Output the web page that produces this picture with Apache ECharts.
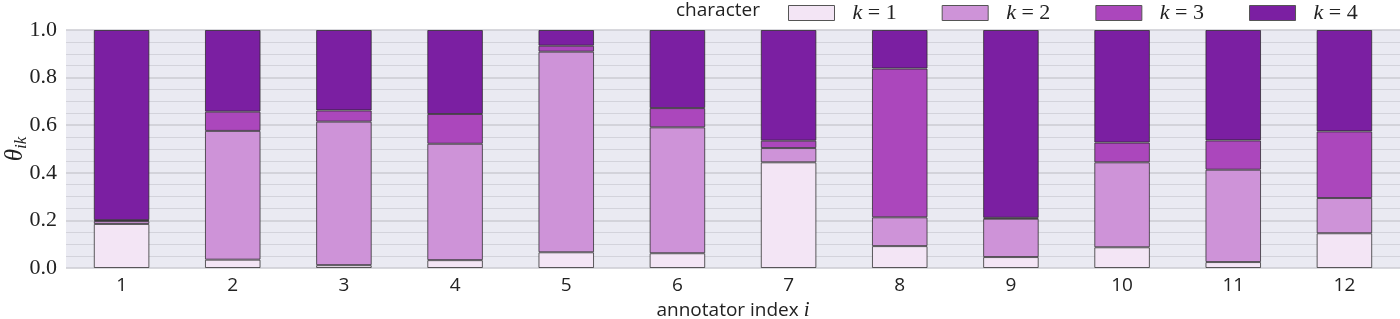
<!DOCTYPE html>
<html>
<head>
<meta charset="utf-8">
<script src="https://cdn.jsdelivr.net/npm/echarts@6/dist/echarts.min.js"></script>
<style>
  html, body { margin: 0; padding: 0; background: #fff; }
  #chart { width: 1400px; height: 319px; }
</style>
</head>
<body>
<div id="chart"></div>
<script>
// annotator index i
const annotators = ['1', '2', '3', '4', '5', '6', '7', '8', '9', '10', '11', '12']
const seriesNames = ['k = 1', 'k = 2', 'k = 3', 'k = 4']

// theta_ik, one array per character k
const k1 = [0.185, 0.035, 0.012, 0.033, 0.066, 0.062, 0.444, 0.092, 0.046, 0.087, 0.025, 0.146]
const k2 = [0.012, 0.541, 0.603, 0.489, 0.843, 0.529, 0.060, 0.121, 0.161, 0.357, 0.388, 0.148]
const k3 = [0.004, 0.081, 0.047, 0.125, 0.025, 0.081, 0.031, 0.625, 0.004, 0.083, 0.123, 0.280]
const k4 = [0.799, 0.343, 0.338, 0.353, 0.066, 0.328, 0.465, 0.162, 0.789, 0.473, 0.464, 0.426]

const colors = ['#F3E5F5', '#CE93D8', '#AB47BC', '#7B1FA2']

const chart = echarts.init(document.getElementById('chart'))

const sans = '"Open Sans", "DejaVu Sans", sans-serif'
const serif = '"Liberation Serif", "DejaVu Serif", serif'

const option = {
  animation: false,
  title: {
    text: 'character',
    left: 676,
    top: 1,
    padding: 0,
    textStyle: { fontFamily: sans, fontSize: 19, fontWeight: 'normal', color: '#222' }
  },
  legend: {
    left: 788,
    top: 2,
    padding: 0,
    itemWidth: 46,
    itemHeight: 15,
    itemGap: 45,
    icon: 'rect',
    itemStyle: { borderColor: '#555', borderWidth: 1 },
    data: seriesNames,
    formatter: name => '{i|k} = ' + name.split('= ')[1],
    textStyle: {
      fontFamily: serif,
      fontSize: 22,
      color: '#222',
      padding: [0, 0, 0, 13],
      width: 52,
      rich: { i: { fontFamily: serif, fontStyle: 'italic', fontSize: 22, color: '#222' } }
    }
  },
  grid: {
    left: 66,
    right: 0,
    top: 30,
    bottom: 51,
    outerBoundsMode: 'none',
    show: true,
    backgroundColor: '#EAEAF2',
    borderWidth: 0
  },
  xAxis: {
    type: 'category',
    data: annotators,
    axisLine: { show: false },
    axisTick: { show: false },
    axisLabel: { fontFamily: sans, fontSize: 19, color: '#222', margin: 8 },
    name: '{t|annotator index }{i|i}',
    nameLocation: 'middle',
    nameGap: 32,
    nameMoveOverlap: false,
    nameTextStyle: {
      rich: {
        t: { fontFamily: sans, fontSize: 19, color: '#222' },
        i: { fontFamily: serif, fontStyle: 'italic', fontSize: 21, color: '#222' }
      }
    }
  },
  yAxis: {
    type: 'value',
    min: 0,
    max: 1,
    interval: 0.2,
    axisLine: { show: false },
    axisTick: { show: false },
    axisLabel: {
      fontFamily: serif, fontSize: 22, color: '#222', margin: 9,
      formatter: v => v.toFixed(1)
    },
    splitLine: { lineStyle: { color: '#cbcbd2', width: 1.6 } },
    minorTick: { show: false, splitNumber: 4 },
    minorSplitLine: { show: true, lineStyle: { color: '#d3d3db', width: 1.2 } },
    name: '{t|θ}{s|ik}',
    nameLocation: 'middle',
    nameRotate: 90,
    nameGap: 36,
    nameMoveOverlap: false,
    nameTextStyle: {
      rich: {
        t: { fontFamily: serif, fontStyle: 'italic', fontSize: 25, color: '#222' },
        s: { fontFamily: serif, fontStyle: 'italic', fontSize: 17, color: '#222', padding: [12, 0, 0, 0] }
      }
    }
  },
  series: [k1, k2, k3, k4].map((vals, i) => ({
    name: seriesNames[i],
    type: 'bar',
    stack: 'theta',
    barWidth: '50%',
    data: vals,
    itemStyle: { color: colors[i], borderColor: 'rgba(40,40,40,0.75)', borderWidth: 1 }
  }))
}

chart.setOption(option)
</script>
</body>
</html>
